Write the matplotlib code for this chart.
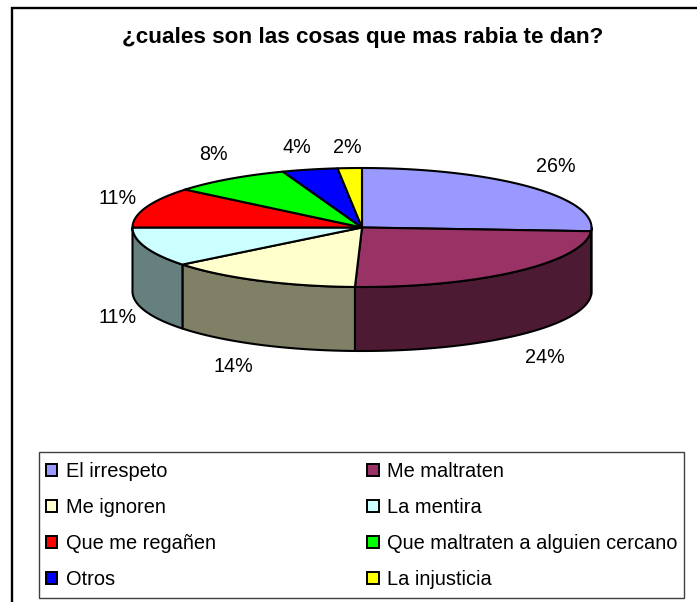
import numpy as np
import matplotlib
matplotlib.use('Agg')
import matplotlib.pyplot as plt
from matplotlib.patches import Polygon, Patch, Rectangle

plt.rcParams['font.family'] = ['Liberation Sans', 'DejaVu Sans']

title = '¿cuales son las cosas que mas rabia te dan?'
categories = ['El irrespeto', 'Me maltraten', 'Me ignoren', 'La mentira',
              'Que me regañen', 'Que maltraten a alguien cercano', 'Otros', 'La injusticia']
values = [26.0, 24.49, 13.81, 10.7, 11.0, 8.4, 3.9, 1.7]
top_colors = ['#9999FF', '#993366', '#FFFFCC', '#CCFFFF', '#FF0000', '#00FF00', '#0000FF', '#FFFF00']
side_colors = ['#4D4D80', '#4D1A33', '#808066', '#668080', '#800000', '#008000', '#000080', '#808000']

# pie geometry in pixels
cx, cy = 362, 227.5
rx, ry = 229.5, 59.5
depth = 64
# nudge of each percent label away from the rim
label_nudge = [(27, -20), (28, 22), (-26, 22), (-28, 6), (-29, -9), (-16, -24), (-13, -22), (-2, -21)]

fig = plt.figure(figsize=(6.97, 6.02), dpi=100)
ax = fig.add_axes([0, 0, 1, 1])
ax.set_xlim(0, 697)
ax.set_ylim(602, 0)
ax.axis('off')


def rim(theta):
    # theta in degrees, clockwise from 12 o'clock
    t = np.deg2rad(theta)
    return cx + rx * np.sin(t), cy - ry * np.cos(t)


# chart frame, runs off the right and bottom of the image
ax.add_patch(Rectangle((12, 7.5), 720, 640, fc='white', ec='black', lw=1.7))

edges = np.cumsum([0] + values) / sum(values) * 360

# walls first, only the front half (90..270 deg) is visible
for i in range(len(values)):
    a0, a1 = max(edges[i], 90), min(edges[i + 1], 270)
    if a1 <= a0:
        continue
    th = np.linspace(a0, a1, 80)
    x, y = rim(th)
    pts = np.r_[np.c_[x, y], np.c_[x[::-1], y[::-1] + depth]]
    ax.add_patch(Polygon(pts, closed=True, fc=side_colors[i], ec='black', lw=1.5, joinstyle='round'))

# top faces
for i in range(len(values)):
    th = np.linspace(edges[i], edges[i + 1], 80)
    x, y = rim(th)
    pts = np.r_[[[cx, cy]], np.c_[x, y]]
    ax.add_patch(Polygon(pts, closed=True, fc=top_colors[i], ec='black', lw=1.5, joinstyle='round'))

# percent labels
for i, v in enumerate(values):
    mid = (edges[i] + edges[i + 1]) / 2
    x, y = rim(mid)
    if 90 < mid < 270:
        y += depth
    ax.text(x + label_nudge[i][0], y + label_nudge[i][1], '%d%%' % round(v),
            ha='center', va='center', fontsize=14.2, color='black')

ax.text(363, 37.5, title, ha='center', va='center', fontsize=16.2, fontweight='bold', color='black')

# legend box drawn by hand, the entries sit closer to its right edge than to the left
ax.add_patch(Rectangle((38.5, 452), 645, 146, fc='white', ec='#404040', lw=1, zorder=3))

# legend is filled column by column, so split the rows over two columns
order = list(range(0, 8, 2)) + list(range(1, 8, 2))
handles = [Patch(fc=top_colors[i], ec='black', lw=1.4) for i in order]
labels = [categories[i] for i in order]
leg = ax.legend(handles, labels, ncol=2, loc='upper left',
                bbox_to_anchor=(46 / 697, 1 - 462 / 602),
                fontsize=14.45, frameon=False, handlelength=0.57, handleheight=0.57, handletextpad=0.42,
                labelspacing=0.85, borderpad=0, borderaxespad=0, columnspacing=7.55)
leg.set_zorder(4)

fig.savefig('out.png', dpi=100)
